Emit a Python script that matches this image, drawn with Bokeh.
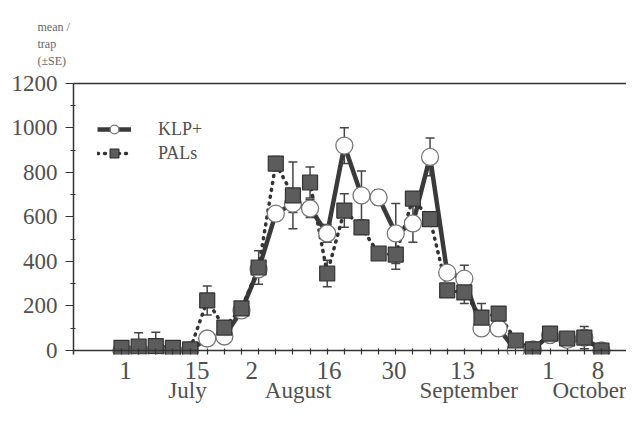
from bokeh.plotting import figure
from bokeh.models import (ColumnDataSource, FixedTicker, LinearAxis, Range1d, Span,
                          Title, Whisker, TeeHead, Legend, LegendItem)
from bokeh.embed import file_html
from bokeh.resources import INLINE

# ---- data ----
sample = list(range(29))
klp = [0, 0, 0, 0, 0, 54, 63, 180, 365, 615, 660, 638, 526, 921, 697, 688, 526, 571,
       870, 350, 323, 99, 99, 0, 5, 70, 48, 58, 0]
klp_se = [5, 5, 5, 5, 5, 10, 15, 20, 30, 25, 40, 40, 40, 80, 110, 35, 135, 85,
          85, 20, 60, 20, 20, 5, 0, 10, 10, 10, 5]
pals = [12, 18, 20, 12, 5, 225, 103, 189, 373, 840, 697, 755, 346, 629, 553, 436, 431, 683,
        590, 270, 261, 148, 166, 45, 5, 76, 54, 58, 0]
pals_se = [8, 62, 62, 8, 8, 65, 20, 25, 75, 32, 150, 70, 60, 75, 30, 20, 66, 30,
           30, 20, 50, 63, 30, 15, 0, 10, 10, 50, 5]

day_ticks = [0.23, 4.4, 7.6, 12.1, 15.9, 19.9, 24.9, 27.8]
day_labels = ["1", "15", "2", "16", "30", "13", "1", "8"]
month_ticks = [3.85, 10.3, 20.25, 27.36]
month_labels = ["July", "August", "September", "October"]
y_ticks = [0, 200, 400, 600, 800, 1000, 1200]
y_minor = [100, 300, 500, 700, 900, 1100]
y_title = "mean /\ntrap\n(\u00b1SE)"

FONT = "Liberation Serif"
TXT = "#505050"
AX = "#333333"

p = figure(frame_width=553, frame_height=271, output_backend="svg", toolbar_location=None,
           x_range=Range1d(-2.8, 29.46), y_range=Range1d(-18, 1200),
           min_border_left=73, min_border_right=0, min_border_top=83, min_border_bottom=51,
           x_axis_location=None, y_axis_location=None)
p.outline_line_color = None
p.grid.visible = False
p.background_fill_color = "white"

# y axis
ya = LinearAxis(ticker=FixedTicker(ticks=y_ticks, minor_ticks=y_minor))
ya.axis_line_color = AX
ya.axis_line_width = 1.5
ya.major_tick_line_color = AX
ya.major_tick_out = 8
ya.major_tick_in = 0
ya.minor_tick_line_color = AX
ya.minor_tick_out = 3
ya.minor_tick_in = 2
ya.major_label_text_font = FONT
ya.major_label_text_font_size = "23px"
ya.major_label_text_color = TXT
ya.major_label_standoff = 8
p.add_layout(ya, "left")

# x axis with day numbers
xa = LinearAxis(ticker=FixedTicker(ticks=day_ticks, minor_ticks=sample),
                major_label_overrides={t: l for t, l in zip(day_ticks, day_labels)})
xa.axis_line_color = None
xa.major_tick_in = 0
xa.major_tick_out = 0
xa.minor_tick_line_color = AX
xa.minor_tick_in = 6
xa.minor_tick_out = 0
xa.minor_tick_line_width = 1.2
xa.major_label_text_font = FONT
xa.major_label_text_font_size = "25px"
xa.major_label_text_color = TXT
xa.major_label_standoff = 7
p.add_layout(xa, "below")

# x axis with month names
ma = LinearAxis(ticker=FixedTicker(ticks=month_ticks, minor_ticks=[]),
                major_label_overrides={t: l for t, l in zip(month_ticks, month_labels)})
ma.axis_line_color = None
ma.major_tick_line_color = None
ma.major_tick_in = 0
ma.major_tick_out = 0
ma.major_label_text_font = FONT
ma.major_label_text_font_size = "23px"
ma.major_label_text_color = TXT
ma.major_label_standoff = -4
p.add_layout(ma, "below")

# top border line
ta = LinearAxis(ticker=FixedTicker(ticks=[], minor_ticks=[]))
ta.axis_line_color = AX
ta.axis_line_width = 1.5
ta.major_label_text_font_size = "0px"
ta.major_tick_line_color = None
ta.minor_tick_line_color = None
p.add_layout(ta, "above")

# y axis title
p.add_layout(Title(text=y_title, align="left", offset=-36, standoff=31,
                   text_font=FONT, text_font_size="12px", text_font_style="normal",
                   text_line_height=1.22, text_color="#666666"), "above")

# zero line
p.add_layout(Span(location=0, dimension="width", line_color=AX, line_width=1.5))

# error bars
ks = ColumnDataSource(dict(x=sample, y=klp, up=[v + s for v, s in zip(klp, klp_se)],
                           lo=[v - s for v, s in zip(klp, klp_se)]))
ps = ColumnDataSource(dict(x=sample, y=pals, up=[v + s for v, s in zip(pals, pals_se)],
                           lo=[v - s for v, s in zip(pals, pals_se)]))
for src in (ps, ks):
    w = Whisker(source=src, base="x", upper="up", lower="lo", line_color="#444444",
                line_width=1.5,
                upper_head=TeeHead(size=9, line_color="#444444", line_width=1.5),
                lower_head=TeeHead(size=9, line_color="#444444", line_width=1.5))
    p.add_layout(w)

kl = p.line("x", "y", source=ks, line_color="#3a3a3a", line_width=4.5)
pl = p.line("x", "y", source=ps, line_color="#333333", line_width=3.5,
            line_dash="1 6", line_cap="round")
kc = p.scatter("x", "y", source=ks, marker="circle", size=17, fill_color="white",
               line_color="#777777", line_width=1.3)
pc = p.scatter("x", "y", source=ps, marker="square", size=15, fill_color="#5c5c5c",
               line_color="#333333", line_width=1.2)

leg = Legend(items=[LegendItem(label="KLP+", renderers=[kl, kc]),
                    LegendItem(label="PALs", renderers=[pl, pc])],
             location=(24, 190), orientation="vertical")
leg.border_line_color = None
leg.background_fill_alpha = 0
leg.padding = 0
leg.margin = 0
leg.spacing = 2
leg.glyph_width = 34
leg.glyph_height = 22
leg.label_standoff = 27
leg.label_text_font = FONT
leg.label_text_font_size = "18px"
leg.label_text_color = TXT
p.add_layout(leg)

open("out.html", "w").write(file_html(p, INLINE))
